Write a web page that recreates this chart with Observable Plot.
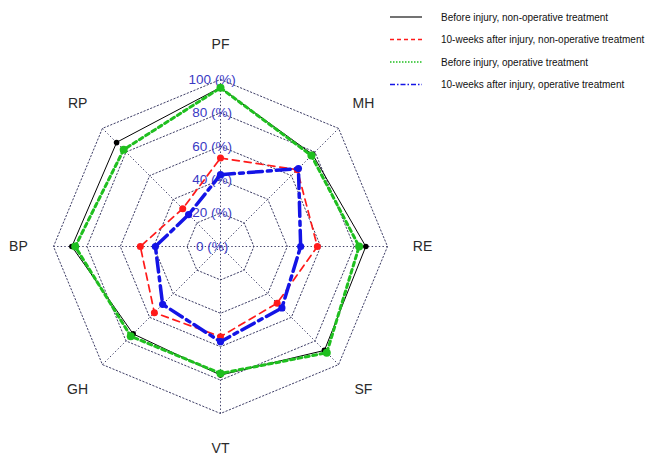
<!DOCTYPE html>
<html><head><meta charset="utf-8">
<script src="https://cdn.jsdelivr.net/npm/d3@7"></script>
<script src="https://cdn.jsdelivr.net/npm/@observablehq/plot@0.6"></script>
<style>
body{margin:0;background:#fff;}
#wrap{position:relative;width:661px;height:455px;font-family:"Liberation Sans",Arial,sans-serif;background:#fff;}
#legend{position:absolute;left:386px;top:0px;}
</style></head><body>
<div id="wrap"><div id="chart"></div><div id="legend"></div></div>
<script>
// ---- data ----
const axes = ["PF", "MH", "RE", "SF", "VT", "GH", "BP", "RP"];
const seriesNames = [
  "Before injury, non-operative treatment",
  "10-weeks after injury, non-operative treatment",
  "Before injury, operative treatment",
  "10-weeks after injury, operative treatment"
];
const beforeNonOp   = [95, 78, 87, 88, 77, 74, 89, 88];
const after10wNonOp = [53, 65, 58, 48, 54, 56, 48, 32];
const beforeOp      = [95, 77, 83, 90, 76, 76, 87, 82];
const after10wOp    = [43, 66, 48, 52, 57, 49, 39, 27];
const ringLevels = [0, 20, 40, 60, 80, 100];
const ringLabels = ["0 (%)", "20 (%)", "40 (%)", "60 (%)", "80 (%)", "100 (%)"];

// ---- styles ----
const styles = [
  {stroke: "#000000", width: 1, dash: null, r: 2.8, legDash: null, legW: 1.1},
  {stroke: "#ff1a1a", width: 1.7, dash: "7,5", r: 3.5, legDash: "4,3", legW: 1.3},
  {stroke: "#1fbf1f", width: 3, dash: "4,3.5", r: 4, legDash: "1.5,1.5", legW: 1.6},
  {stroke: "#1414e6", width: 3.5, dash: "14,5,4,5", r: 3.6, legDash: "5,2,1.5,2", legW: 1.6}
];
const allValues = [beforeNonOp, after10wNonOp, beforeOp, after10wOp];

const n = axes.length;
const ang = i => i * 2 * Math.PI / n;
const px = (i, v) => Math.sin(ang(i)) * v / 100;
const py = (i, v) => Math.cos(ang(i)) * v / 100;

// grid rings
const rings = [];
ringLevels.filter(l => l > 0).forEach(l => {
  for (let i = 0; i <= n; i++) rings.push({ring: l, x: px(i % n, l), y: py(i % n, l)});
});
const spokes = axes.map((a, i) => ({x1: 0, y1: 0, x2: px(i, 100), y2: py(i, 100)}));
const axisLabels = axes.map((a, i) => ({label: a, x: px(i, 121), y: py(i, 121)}));
const ringText = ringLevels.map((l, k) => ({label: ringLabels[k], x: -0.05, y: l / 100}));

const seriesMarks = [];
allValues.forEach((vals, s) => {
  const pts = vals.map((v, i) => ({x: px(i, v), y: py(i, v)}));
  const st = styles[s];
  seriesMarks.push(Plot.line(pts, {x: "x", y: "y", curve: "linear-closed", stroke: st.stroke,
    strokeWidth: st.width, strokeDasharray: st.dash || undefined}));
  seriesMarks.push(Plot.dot(pts, {x: "x", y: "y", r: st.r, fill: st.stroke, stroke: "none"}));
});

const chart = Plot.plot({
  width: 661, height: 455, margin: 0,
  x: {domain: [-1, 1], range: [53, 387], axis: null},
  y: {domain: [-1, 1], range: [413, 79], axis: null},
  style: {background: "#fff", fontFamily: "'Liberation Sans', Arial, sans-serif"},
  marks: [
    Plot.line(rings, {x: "x", y: "y", z: "ring", stroke: "#3e3e66", strokeWidth: 1, strokeDasharray: "1.4,2.2"}),
    Plot.link(spokes, {x1: "x1", y1: "y1", x2: "x2", y2: "y2", stroke: "#3e3e66", strokeWidth: 1, strokeDasharray: "1.4,2.2"}),
    Plot.text(ringText, {x: "x", y: "y", text: "label", fill: "#3a3ac4", fontSize: 13.5}),
    ...seriesMarks,
    Plot.text(axisLabels, {x: "x", y: "y", text: "label", fill: "#2a2a2a", fontSize: 14})
  ]
});
document.getElementById("chart").append(chart);

// legend
const leg = d3.select("#legend").append("svg").attr("width", 275).attr("height", 100)
  .style("font-family", "'Liberation Sans', Arial, sans-serif");
seriesNames.forEach((name, s) => {
  const y = 17 + s * 22.5;
  const st = styles[s];
  leg.append("line").attr("x1", 4).attr("x2", 36).attr("y1", y).attr("y2", y)
    .attr("stroke", st.stroke).attr("stroke-width", st.legW)
    .attr("stroke-dasharray", st.legDash);
  leg.append("text").attr("x", 55).attr("y", y).attr("dy", "0.35em")
    .attr("font-size", 10).attr("fill", "#111").text(name);
});
</script>
</body></html>
